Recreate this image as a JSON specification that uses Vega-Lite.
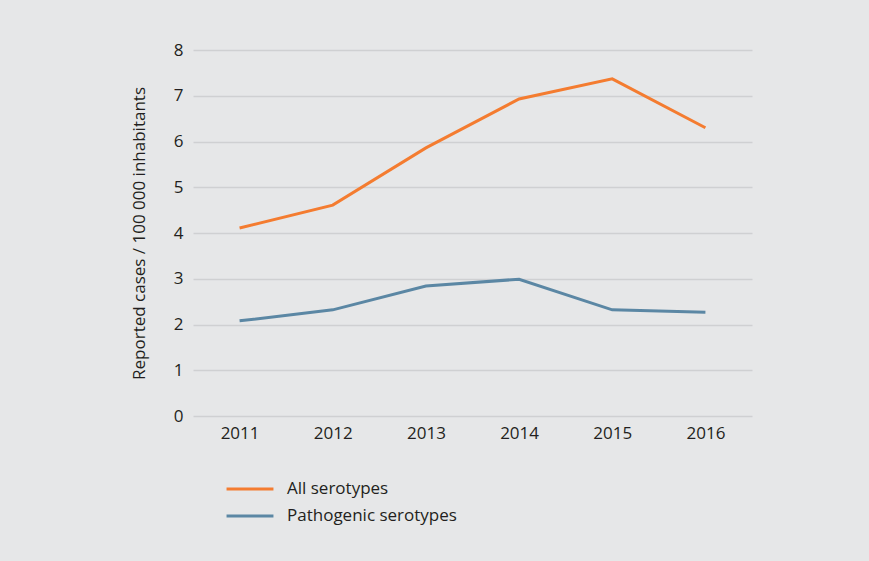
{
  "$schema": "https://vega.github.io/schema/vega-lite/v6.json",
  "width": 559,
  "height": 366,
  "autosize": {"type": "none"},
  "padding": {"left": 193, "top": 50, "right": 117, "bottom": 145},
  "background": "#e6e7e8",
  "config": {
    "view": {"stroke": null},
    "font": "Open Sans",
    "axis": {"labelFont": "Open Sans", "titleFont": "Open Sans", "labelColor": "#231f20", "titleColor": "#231f20"},
    "legend": {"labelFont": "Open Sans"}
  },
  "data": {
    "values": [
      {"year": "2011", "series": "All serotypes", "value": 4.11},
      {"year": "2012", "series": "All serotypes", "value": 4.61},
      {"year": "2013", "series": "All serotypes", "value": 5.86},
      {"year": "2014", "series": "All serotypes", "value": 6.93},
      {"year": "2015", "series": "All serotypes", "value": 7.37},
      {"year": "2016", "series": "All serotypes", "value": 6.3},
      {"year": "2011", "series": "Pathogenic serotypes", "value": 2.08},
      {"year": "2012", "series": "Pathogenic serotypes", "value": 2.32},
      {"year": "2013", "series": "Pathogenic serotypes", "value": 2.84},
      {"year": "2014", "series": "Pathogenic serotypes", "value": 2.99},
      {"year": "2015", "series": "Pathogenic serotypes", "value": 2.32},
      {"year": "2016", "series": "Pathogenic serotypes", "value": 2.27}
    ]
  },
  "mark": {"type": "line", "strokeWidth": 3},
  "encoding": {
    "x": {
      "field": "year", "type": "ordinal",
      "scale": {"type": "point", "padding": 0.5},
      "axis": {"title": null, "labelAngle": 0, "ticks": false, "domain": false, "grid": false, "labelFontSize": 17, "labelPadding": 9}
    },
    "y": {
      "field": "value", "type": "quantitative",
      "scale": {"domain": [0, 8]},
      "axis": {
        "title": "Reported cases  / 100 000 inhabitants",
        "titleFontSize": 17, "titleFontWeight": "normal", "titlePadding": 25,
        "values": [0, 1, 2, 3, 4, 5, 6, 7, 8], "labelOverlap": false,
        "ticks": false, "domain": false, "grid": true, "gridColor": "#cfd0d2", "gridWidth": 1.5,
        "labelFontSize": 17, "labelPadding": 10
      }
    },
    "color": {
      "field": "series", "type": "nominal",
      "scale": {"domain": ["All serotypes", "Pathogenic serotypes"], "range": ["#f47c30", "#5b87a4"]},
      "legend": {
        "title": null, "orient": "none", "legendX": 32, "legendY": 427,
        "symbolType": "stroke", "symbolSize": 2200, "symbolStrokeWidth": 3,
        "labelFontSize": 17, "labelColor": "#231f20", "labelOffset": 12, "labelLimit": 400,
        "clipHeight": 24, "rowPadding": 3
      }
    }
  }
}
